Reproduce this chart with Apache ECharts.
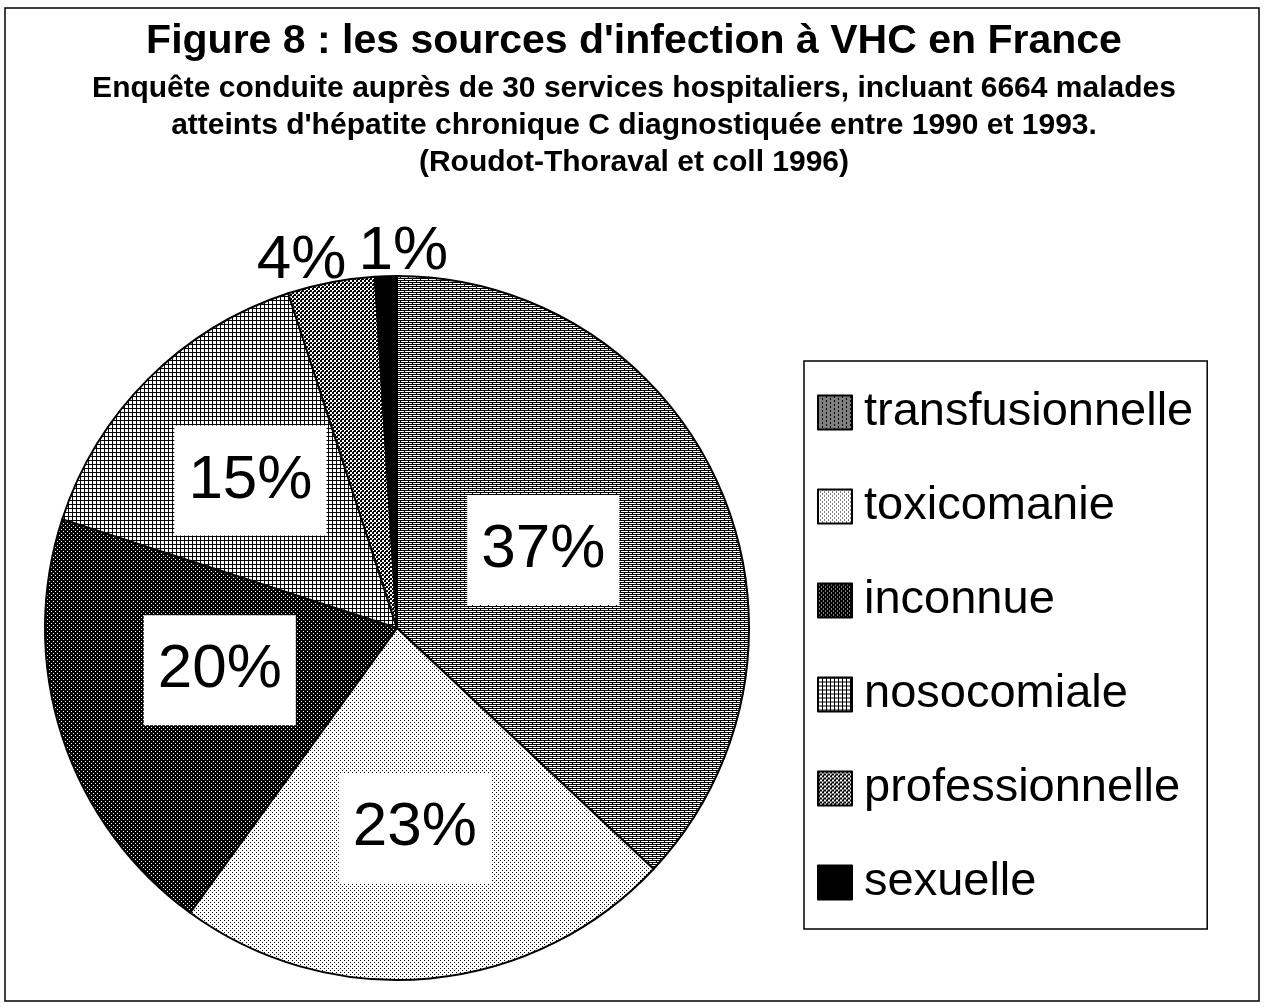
<!DOCTYPE html>
<html>
<head>
<meta charset="utf-8">
<script src="https://cdn.jsdelivr.net/npm/echarts@6/dist/echarts.min.js"></script>
<style>
  html, body { margin: 0; padding: 0; background: #fff; }
  #main { width: 1268px; height: 1007px; }
</style>
</head>
<body>
<div id="main"></div>
<script>
// data
var sources = ['transfusionnelle', 'toxicomanie', 'inconnue', 'nosocomiale', 'professionnelle', 'sexuelle'];
var percents = [37, 23, 20, 15, 4, 1];

var titleText = "Figure 8 : les sources d'infection à VHC en France";
var subText = "Enquête conduite auprès de 30 services hospitaliers, incluant 6664 malades\n" +
    "atteints d'hépatite chronique C diagnostiquée entre 1990 et 1993.\n" +
    "(Roudot-Thoraval et coll 1996)";

// label nudges (px) from the default inside position
var labelNudge = [[-18, -7], [1, 22], [-7, -13], [-20, -21], [-62, -191], [12, -197]];

// black & white hatch fills, like the printed original
function pattern(w, h, draw) {
    var c = document.createElement('canvas');
    c.width = w; c.height = h;
    var ctx = c.getContext('2d');
    ctx.fillStyle = '#fff';
    ctx.fillRect(0, 0, w, h);
    ctx.fillStyle = '#000';
    draw(ctx);
    return { image: c, repeat: 'repeat' };
}
var fills = [
    // horizontal bricks
    pattern(8, 4, function (ctx) {
        ctx.fillRect(0, 0, 8, 1);
        ctx.fillRect(0, 1, 1, 1);
        ctx.fillRect(0, 2, 8, 1);
        ctx.fillRect(4, 3, 1, 1);
    }),
    // light dots
    pattern(4, 4, function (ctx) {
        ctx.fillRect(0, 0, 1, 1);
        ctx.fillRect(2, 2, 1, 1);
    }),
    // dark with white dots
    pattern(4, 4, function (ctx) {
        ctx.fillRect(0, 0, 4, 4);
        ctx.fillStyle = '#fff';
        ctx.fillRect(1, 1, 1, 1);
        ctx.fillRect(3, 3, 1, 1);
    }),
    // grid
    pattern(4, 4, function (ctx) {
        ctx.fillRect(0, 0, 4, 1);
        ctx.fillRect(0, 0, 1, 4);
    }),
    // checker
    pattern(4, 4, function (ctx) {
        ctx.fillRect(0, 0, 2, 2);
        ctx.fillRect(2, 2, 2, 2);
        ctx.fillRect(1, 3, 1, 1);
    }),
    '#000'
];

var font = "'Liberation Sans', Arial, Helvetica, sans-serif";

var seriesData = sources.map(function (name, i) {
    var item = {
        name: name,
        value: percents[i],
        itemStyle: { color: fills[i] }
    };
    if (percents[i] < 10) {
        item.label = { backgroundColor: 'transparent', padding: 0 };
    }
    return item;
});

var myChart = echarts.init(document.getElementById('main'));

var option = {
    backgroundColor: '#fff',
    animation: false,
    title: {
        text: titleText,
        subtext: subText,
        left: 'center',
        top: 16,
        itemGap: 8,
        textStyle: { fontFamily: font, fontSize: 41, fontWeight: 'bold', color: '#000', lineHeight: 41 },
        subtextStyle: { fontFamily: font, fontSize: 30, fontWeight: 'bold', color: '#000', lineHeight: 37 }
    },
    legend: {
        orient: 'vertical',
        left: 804,
        top: 361,
        padding: [28, 14, 23, 13],
        borderColor: '#000',
        borderWidth: 1.5,
        itemWidth: 34,
        itemHeight: 34,
        itemGap: 47,
        icon: 'rect',
        data: sources,
        textStyle: { fontFamily: font, fontSize: 47, lineHeight: 46, color: '#000', padding: [0, 0, 0, 7] }
    },
    graphic: [{
        type: 'rect',
        shape: { x: 5, y: 8, width: 1254, height: 993 },
        style: { fill: 'none', stroke: '#000', lineWidth: 1.5 },
        silent: true
    }],
    series: [{
        name: 'sources',
        type: 'pie',
        center: [397, 628],
        radius: 352,
        startAngle: 90,
        clockwise: true,
        avoidLabelOverlap: false,
        itemStyle: { borderColor: '#000', borderWidth: 2 },
        label: {
            show: true,
            position: 'inside',
            formatter: '{c}%',
            fontFamily: font,
            fontSize: 62,
            lineHeight: 62,
            color: '#000',
            backgroundColor: '#fff',
            padding: [24, 14]
        },
        labelLine: { show: false },
        labelLayout: function (params) {
            var n = labelNudge[params.dataIndex];
            return { dx: n[0], dy: n[1] };
        },
        emphasis: { disabled: true },
        data: seriesData
    }]
};

myChart.setOption(option);
</script>
</body>
</html>
